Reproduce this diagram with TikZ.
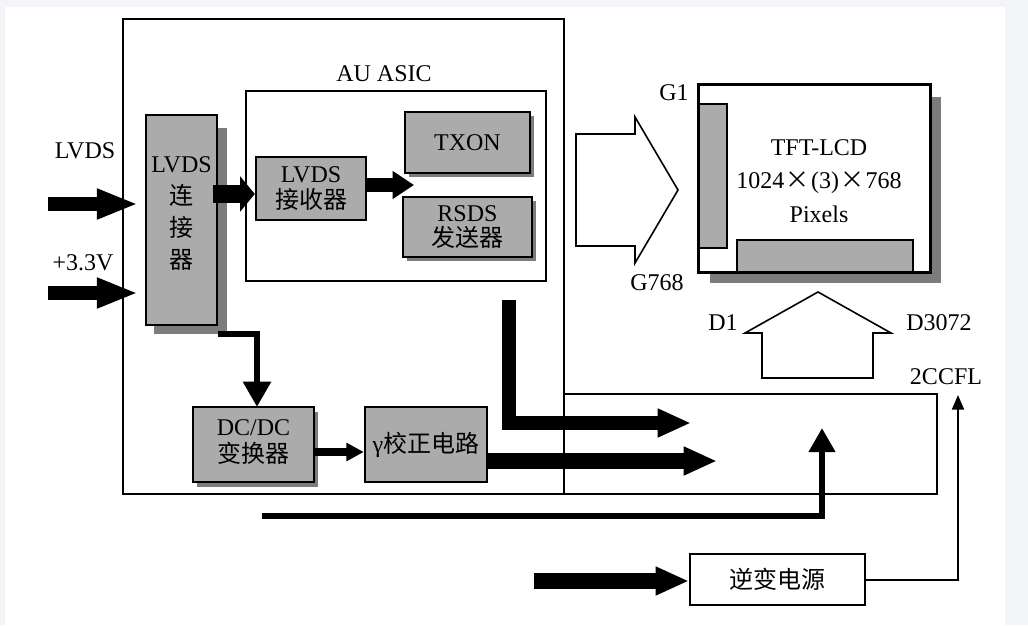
\documentclass[tikz,border=0pt]{standalone}
\usepackage{fontspec}
\setmainfont{Liberation Serif}
\newfontfamily\cjk{Noto Sans CJK SC}
\usetikzlibrary{arrows.meta,fit}
\definecolor{shade}{HTML}{ABABAB}
\definecolor{shadowc}{HTML}{7C7C7C}
\definecolor{pagebg}{HTML}{F4F5F8}
\begin{document}
\begin{tikzpicture}[x=0.75pt,y=-0.75pt,
  lbl/.style={font=\fontsize{18}{22}\selectfont, inner sep=0pt},
  btxt/.style={font=\fontsize{18}{19}\selectfont, inner sep=0pt, align=center},
  graybox/.style={draw=black, line width=1.8pt, fill=shade, inner sep=0pt},
  plainbox/.style={draw=black, line width=1.5pt, inner sep=0pt},
  whitebox/.style={draw=black, line width=1.6pt, fill=white, inner sep=0pt},
  hollow/.style={draw=black, line width=1.2pt, fill=white, line join=miter},
  fatA/.style={line width=10.5pt, line join=miter, -{Triangle[length=31pt,width=21pt]}},
  fatB/.style={line width=13pt, -{Triangle[length=11pt,width=26pt]}},
  fatC/.style={line width=10.5pt, -{Triangle[length=16pt,width=20pt]}},
  fatD/.style={line width=12pt, line join=miter, -{Triangle[length=25pt,width=20pt]}},
  fatE/.style={line width=10pt, -{Triangle[length=25pt,width=20pt]}},
  midA/.style={line width=5pt, line join=miter, -{Triangle[length=18pt,width=19pt]}},
  midB/.style={line width=6.5pt, -{Triangle[length=13pt,width=13pt]}},
  midC/.style={line width=5pt, line join=miter, -{Triangle[length=19pt,width=20pt]}},
  thinA/.style={line width=1.5pt, line join=miter, -{Triangle[length=11pt,width=9pt]}},
]
% page
\fill[pagebg] (0,0) rectangle (1028,625);
\fill[white] (5,7) rectangle (1005,625);
\useasboundingbox (0,0) rectangle (1028,625);

% frames
\node[plainbox, fit={(123,19) (564,494)}] (main) {};
\node[plainbox, fit={(564,394) (937,494)}] (ext) {};
\node[plainbox, fit={(246,91) (546,281)}] (asic) {};
\node[lbl] (asiclbl) at (384,74) {AU ASIC};

% shadows
\fill[shadowc] (154,128) rectangle (227,334);
\fill[shadowc] (409,116) rectangle (534,177);
\fill[shadowc] (407,201) rectangle (536,261);
\fill[shadowc] (197,412) rectangle (318,487);
\fill[shadowc] (710,97) rectangle (941,283);

% gray boxes
\node[graybox, fit={(146,115) (217,325)}] (conn) {};
\node[btxt, font=\fontsize{18}{24}\selectfont] (conntxt) at (181.5,214)
  {LVDS\\{\cjk 连}\\{\cjk 接}\\{\cjk 器}};
\node[graybox, fit={(256,157) (366,220)}] (rx) {};
\node[btxt] (rxtxt) at (rx.center) {LVDS\\{\cjk 接收器}};
\node[graybox, fit={(405,112) (530,173)}] (txon) {};
\node[btxt] (txontxt) at (txon.center) {TXON};
\node[graybox, fit={(403,197) (532,257)}] (rsds) {};
\node[btxt] (rsdstxt) at (rsds.center) {RSDS\\{\cjk 发送器}};
\node[graybox, fit={(193,407) (314,482)}] (dc) {};
\node[btxt, font=\fontsize{18}{20}\selectfont] (dctxt) at ([yshift=2pt]dc.center) {DC/DC\\{\cjk 变换器}};
\node[graybox, fit={(365,407) (487,482)}] (gam) {};
\node[btxt] (gamtxt) at (gam.center) {γ{\cjk 校正电路}};

% LCD
\node[whitebox, fit={(699,85) (930,272)}] (lcd) {};
\node[draw=black, line width=1.2pt, fill=shade, inner sep=0pt, fit={(699,104) (727,248)}] (gdrv) {};
\node[draw=black, line width=1.2pt, fill=shade, inner sep=0pt, fit={(737,240) (913,272)}] (ddrv) {};
\draw[line width=1.6pt] (lcd.north west) rectangle (lcd.south east);
\node[lbl, align=center, font=\fontsize{18}{25}\selectfont] (lcdtxt) at (819,181)
  {TFT-LCD\\1024\makebox[20pt]{{\cjk ×}}(3)\makebox[20pt]{{\cjk ×}}768\\Pixels};

% inverter
\node[whitebox, fit={(690,554) (865,605)}] (inv) {};
\node[btxt] (invtxt) at (inv.center) {{\cjk 逆变电源}};

% labels
\node[lbl] (lvdsl) at (85,151) {LVDS};
\node[lbl] (v33) at (83,263) {+3.3V};
\node[lbl] (g1) at (674,93) {G1};
\node[lbl] (g768) at (657,283) {G768};
\node[lbl] (d1) at (723,323) {D1};
\node[lbl] (d3072) at (939,323) {D3072};
\node[lbl] (ccfl) at (946,377) {2CCFL};

% hollow arrows
\draw[hollow] (576,134) -- (635,134) -- (635,117) -- (678,190) -- (635,263) -- (635,246) -- (576,246) -- cycle;
\draw[hollow] (762,378) -- (762,333) -- (745,333) -- (818,292) -- (891,333) -- (873,333) -- (873,378) -- cycle;

% coordinates
\coordinate (inA) at (48,204);
\coordinate (inB) at (48,293);
\coordinate (yA) at (0,194);
\coordinate (rxT) at (414,185);
\coordinate (Ls) at (509,300);
\coordinate (Le) at (691,423);
\coordinate (yG) at (0,461);
\coordinate (gE) at (717,461);
\coordinate (bS) at (262,516);
\coordinate (bE) at (822,428);
\coordinate (y332) at (0,334);
\coordinate (dcT) at (257,407);
\coordinate (yD) at (0,452);
\coordinate (iS) at (534,581);
\coordinate (cE) at (958,395);

% connectors
\draw[fatA, shorten >=5pt] (inA) -- (conn.west |- inA);
\draw[fatA, shorten >=5pt] (inB) -- (conn.west |- inB);
\draw[fatB, shorten <=-4pt] (conn.east |- yA) -- (rx.west |- yA);
\draw[fatC] (rx.east |- rxT) -- (rxT);
\draw[fatE, line join=miter] (Ls) |- (Le);
\draw[fatD] (gam.east |- yG) -- (gE);
\draw[midA] (bS) -| (bE);
\draw[midC] (conn.east |- y332) -| (dcT);
\draw[midB] (dc.east |- yD) -- (gam.west |- yD);
\draw[fatD] (iS) -- (inv.west |- iS);
\draw[thinA] (inv.east) -| (cE);
\end{tikzpicture}
\end{document}
